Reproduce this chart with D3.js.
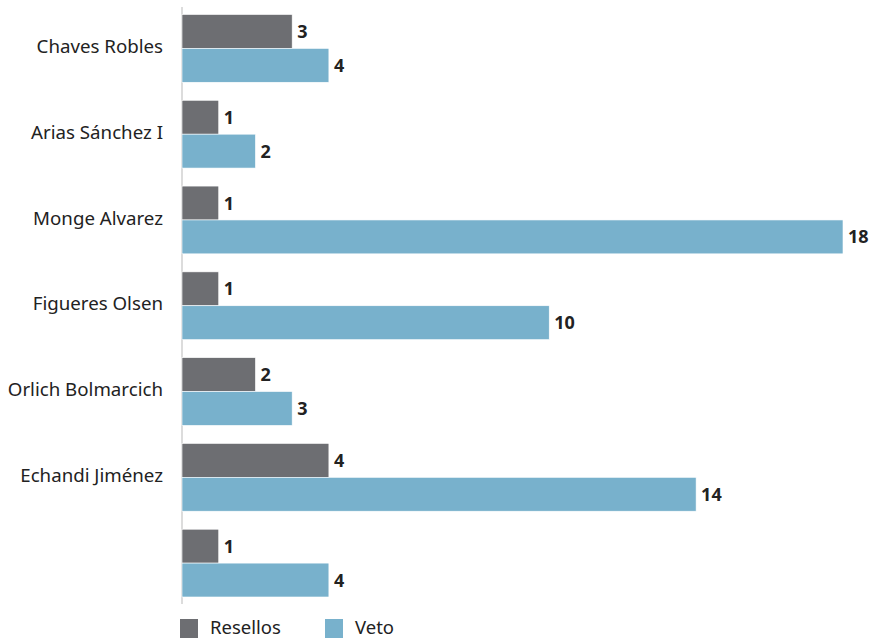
<!DOCTYPE html>
<html><head><meta charset="utf-8">
<script src="https://cdn.jsdelivr.net/npm/d3@7"></script>
<style>body{margin:0;background:#fff;}svg{display:block;font-family:"Noto Sans",sans-serif;}</style>
</head><body><svg id="c" width="870" height="638"></svg>
<script>
const categories = ["Chaves Robles","Arias Sánchez I","Monge Alvarez","Figueres Olsen","Orlich Bolmarcich","Echandi Jiménez",""];
const seriesNames = ["Resellos","Veto"];
const resellos = [3,1,1,1,2,4,1];
const veto = [4,2,18,10,3,14,4];
const colors = ["#6d6e72","#78b1cc"];

const svg = d3.select("#c");
const x0 = 182;
const x = d3.scaleLinear().domain([0,18]).range([x0, 843]);
const y = d3.scaleBand().domain(d3.range(categories.length)).range([5.5,606]).paddingInner(0.21).paddingOuter(0.105);
const ySub = d3.scaleBand().domain(seriesNames).range([0, y.bandwidth()]);
const series = [resellos, veto];

svg.append("line").attr("x1",x0).attr("x2",x0).attr("y1",7).attr("y2",604)
  .attr("stroke","#d0d0d0").attr("stroke-width",1.5);

categories.forEach((c,i)=>{
  const g = svg.append("g");
  series.forEach((s,k)=>{
    const yy = y(i)+ySub(seriesNames[k]);
    g.append("rect").attr("x",x(0)).attr("y",yy).attr("width",x(s[i])-x(0)).attr("height",ySub.bandwidth())
      .attr("fill",colors[k]).attr("stroke","#ffffff").attr("stroke-width",0.6);
    g.append("text").attr("x",x(s[i])+5).attr("y",yy+ySub.bandwidth()/2).attr("dy","0.36em")
      .attr("font-size",18).attr("font-weight","bold").attr("fill","#222").text(s[i]);
  });
  g.append("text").attr("x",163).attr("y",y(i)+y.bandwidth()/2-2).attr("dy","0.36em").attr("text-anchor","end")
    .attr("font-size",18.7).attr("fill","#222").text(c);
});

const leg = svg.append("g");
const legX = [180, 325];
seriesNames.forEach((n,k)=>{
  leg.append("rect").attr("x",legX[k]).attr("y",619).attr("width",18).attr("height",19).attr("fill",colors[k]);
  leg.append("text").attr("x",legX[k]+30).attr("y",627.5).attr("dy","0.36em").attr("font-size",18.5).attr("fill","#222").text(n);
});
</script></body></html>
